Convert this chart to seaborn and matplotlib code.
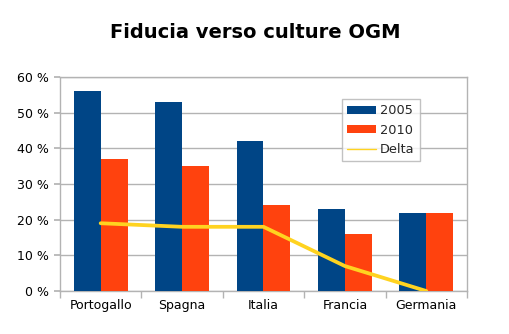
import numpy as np
import pandas as pd
import matplotlib
matplotlib.use("Agg")
import matplotlib.pyplot as plt
import seaborn as sns
from matplotlib.patches import Patch
from matplotlib.lines import Line2D

categories = ["Portogallo", "Spagna", "Italia", "Francia", "Germania"]
v2005 = [56, 53, 42, 23, 22]
v2010 = [37, 35, 24, 16, 22]
delta = [19, 18, 18, 7, 0]
yticks = [0, 10, 20, 30, 40, 50, 60]

sns.set_theme(style="white")
plt.rcParams['font.family'] = ['DejaVu Sans']

df = pd.DataFrame({
    "Paese": categories * 2,
    "Valore": v2005 + v2010,
    "Anno": ["2005"] * 5 + ["2010"] * 5,
})

c_blue = "#004586"
c_orange = "#ff420e"
c_yellow = "#ffd320"
grid_c = "#b3b3b3"

fig = plt.figure(figsize=(5.1, 3.34), dpi=100)
ax = fig.add_axes([0.1176, 0.1287, 0.7981, 0.6408])

sns.barplot(data=df, x="Paese", y="Valore", hue="Anno", order=categories,
            palette=[c_blue, c_orange], width=0.66, gap=0, saturation=1,
            linewidth=0, ax=ax, legend=False, zorder=3)
sns.lineplot(x=np.arange(len(categories)), y=delta, color=c_yellow, linewidth=2.7,
             ax=ax, zorder=4)

ax.set_xlim(-0.5, len(categories) - 0.5)
ax.set_ylim(0, 60)
ax.set_yticks(yticks)
ax.set_yticklabels([f"{v} %" for v in yticks])
ax.set_xticks(np.arange(len(categories)))
ax.set_xticklabels(categories)
ax.set_xlabel("")
ax.set_ylabel("")

ax.yaxis.grid(True, color=grid_c, linewidth=1, zorder=0)
ax.set_axisbelow(True)
for s in ax.spines.values():
    s.set_visible(True)
    s.set_color(grid_c)
    s.set_linewidth(1)

ax.tick_params(axis="x", length=0, labelsize=9, colors="black", pad=6)
ax.tick_params(axis="y", length=4, color=grid_c, labelsize=9, labelcolor="black", pad=4, left=True)
ax.set_xticks(np.arange(len(categories) + 1) - 0.5, minor=True)
ax.tick_params(axis="x", which="minor", length=5, color=grid_c, bottom=True)

fig.text(0.5, 0.902, "Fiducia verso culture OGM", ha="center", va="center",
         fontsize=14, fontweight="bold", color="black")

handles = [
    Patch(facecolor=c_blue, edgecolor="none", label="2005"),
    Patch(facecolor=c_orange, edgecolor="none", label="2010"),
    Line2D([0], [0], color=c_yellow, linewidth=1, label="Delta"),
]
leg = ax.legend(handles=handles, loc="upper left", bbox_to_anchor=(0.693, 0.897),
                frameon=True, fancybox=False, fontsize=9.3, handlelength=2.2,
                handleheight=0.55, labelspacing=0.5, borderpad=0.4, handletextpad=0.35,
                borderaxespad=0)
leg.get_frame().set_edgecolor(grid_c)
leg.get_frame().set_linewidth(1)
leg.get_frame().set_facecolor("white")
leg.set_zorder(5)

fig.savefig("out.png", dpi=100, facecolor="white")
